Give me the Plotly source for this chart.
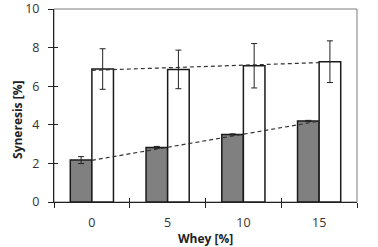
import numpy as np
import plotly.graph_objects as go

whey = [0, 5, 10, 15]
gray_vals = [2.17, 2.83, 3.50, 4.20]
gray_err = [0.18, 0.05, 0.03, 0.03]
white_vals = [6.89, 6.87, 7.06, 7.27]
white_err = [1.05, 1.00, 1.15, 1.08]
y_ticks = [0, 2, 4, 6, 8, 10]
boundaries = [-2.5, 2.5, 7.5, 12.5, 17.5]

FONT = "Open Sans"
TXT = "#333333"

fig = go.Figure()
fig.add_trace(go.Bar(
    x=whey, y=gray_vals, marker=dict(color="#808080", line=dict(color="#1a1a1a", width=1.5)),
    error_y=dict(type="data", array=gray_err, color="#222", thickness=1, width=3),
    showlegend=False))
fig.add_trace(go.Bar(
    x=whey, y=white_vals, marker=dict(color="white", line=dict(color="#1a1a1a", width=1.5)),
    error_y=dict(type="data", array=white_err, color="#222", thickness=1, width=3),
    showlegend=False))

xs = np.array(whey, dtype=float)
for vals in (gray_vals, white_vals):
    m, b = np.polyfit(xs, np.array(vals), 1)
    fig.add_trace(go.Scatter(x=[xs[0], xs[-1]], y=[b + m * xs[0], b + m * xs[-1]],
                             mode="lines", line=dict(color="#333", width=1.2, dash="4px,3px"),
                             showlegend=False, hoverinfo="skip"))

fig.update_layout(
    width=378, height=247, margin=dict(l=54, r=21, t=9, b=45),
    paper_bgcolor="white", plot_bgcolor="white",
    barmode="group", bargap=0.43, bargroupgap=0,
    font=dict(family=FONT, size=12.5, color=TXT),
    xaxis=dict(range=[-2.5, 17.5], tickmode="array", tickvals=boundaries, ticktext=[""] * 5,
               ticks="outside", ticklen=5, tickcolor="#222", showline=True, linecolor="#222",
               linewidth=1, showgrid=False, zeroline=False, automargin=False),
    xaxis2=dict(range=[-2.5, 17.5], overlaying="x", side="bottom", anchor="y",
                tickmode="array", tickvals=whey, ticktext=[str(v) for v in whey],
                ticks="", showline=False, showgrid=False, zeroline=False, ticklabelstandoff=11,
                automargin=False),
    xaxis3=dict(range=[-2.5, 17.5], overlaying="x", side="bottom", anchor="y",
                tickmode="array", tickvals=boundaries, ticktext=[""] * 5,
                ticks="inside", ticklen=4, tickcolor="#222", showline=False, showgrid=False,
                zeroline=False, automargin=False),
    yaxis=dict(range=[0, 10], tickmode="array", tickvals=y_ticks, ticks="outside", ticklen=5,
               tickcolor="#222", showline=True, linecolor="#222", linewidth=1, showgrid=False,
               zeroline=False, ticklabelstandoff=6, automargin=False),
    yaxis2=dict(range=[0, 10], overlaying="y", side="left", anchor="x", tickmode="array",
                tickvals=y_ticks, ticktext=[""] * 6, ticks="inside", ticklen=4, tickcolor="#222",
                showline=False, showgrid=False, zeroline=False, automargin=False),
    annotations=[
        dict(text="<b>Whey [%]</b>", xref="paper", yref="paper", x=0.5, y=0, yshift=-36,
             showarrow=False, font=dict(size=12, color="#222"), xanchor="center", yanchor="middle"),
        dict(text="<b>Syneresis [%]</b>", xref="paper", yref="paper", x=0, xshift=-36, y=0.425,
             textangle=-90, showarrow=False, font=dict(size=12, color="#222"),
             xanchor="center", yanchor="middle"),
    ],
)
fig.add_trace(go.Scatter(x=[0], y=[0], xaxis="x2", yaxis="y", mode="markers",
                         marker=dict(opacity=0), showlegend=False, hoverinfo="skip"))
fig.add_trace(go.Scatter(x=[0], y=[0], xaxis="x3", yaxis="y2", mode="markers",
                         marker=dict(opacity=0), showlegend=False, hoverinfo="skip"))
fig.add_shape(type="rect", xref="paper", yref="paper", x0=0, x1=1, y0=0, y1=1,
              line=dict(color="#7f7f7f", width=1), layer="below")
fig.write_html("out.html", config={"displayModeBar": False},
               post_script="document.body.style.margin='0';")
